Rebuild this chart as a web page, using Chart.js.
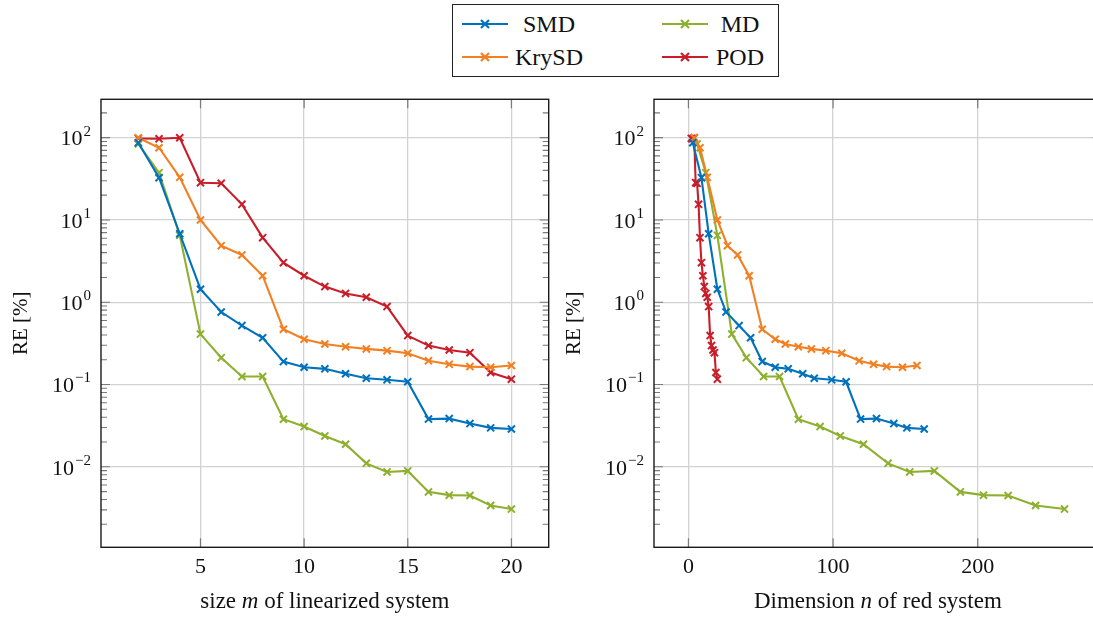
<!DOCTYPE html>
<html>
<head>
<meta charset="utf-8">
<script src="https://cdn.jsdelivr.net/npm/chart.js@4.4.1/dist/chart.umd.min.js"></script>
<style>
  html, body { margin: 0; padding: 0; background: #fff; overflow: hidden; width: 1093px; height: 617px; }
  .panel { position: absolute; top: 80px; }
  #legend { position: absolute; left: 452px; top: 4px; width: 327px; height: 73px; border: 1.3px solid #222;
            font-family: 'Liberation Serif', serif; font-size: 24px; color: #111; box-sizing: border-box; }
  .item { position: absolute; height: 30px; line-height: 30px; }
  .item svg { position: absolute; top: 7px; }
  .item span { position: absolute; width: 90px; text-align: center; }
</style>
</head>
<body>
<div id="legend"></div>
<canvas id="left" class="panel" width="560" height="537" style="left:0px"></canvas>
<canvas id="right" class="panel" width="560" height="537" style="left:553px"></canvas>
<script>
// series names / colours
const seriesNames = ['SMD', 'KrySD', 'MD', 'POD'];
const seriesColors = ['#0072BD', '#F28022', '#8DB02E', '#C81E2A'];

// left plot: size m of linearized system
const mValues = [2, 3, 4, 5, 6, 7, 8, 9, 10, 11, 12, 13, 14, 15, 16, 17, 18, 19, 20];

// relative error in %
const smdRE   = [87, 32.7, 6.8, 1.44, 0.76, 0.52, 0.37, 0.19, 0.162, 0.155, 0.135, 0.119, 0.114, 0.108, 0.038, 0.0385, 0.0335, 0.0297, 0.0288];
const krysdRE = [100, 75.6, 33, 10, 4.87, 3.76, 2.1, 0.47, 0.355, 0.311, 0.288, 0.271, 0.258, 0.24, 0.194, 0.176, 0.165, 0.162, 0.17];
const mdRE    = [84, 37.6, 6.5, 0.41, 0.212, 0.125, 0.125, 0.0378, 0.0308, 0.0237, 0.0188, 0.011, 0.00865, 0.0089, 0.00495, 0.00452, 0.00447, 0.00338, 0.00306];
const podRE   = [98, 97, 100, 28.4, 27.9, 15.5, 6.1, 3.03, 2.1, 1.55, 1.28, 1.15, 0.885, 0.393, 0.297, 0.263, 0.244, 0.14, 0.116];

// right plot: dimension n of reduced system
const smdDim   = [3, 9, 14, 20, 26, 35, 43, 51, 60, 69, 79, 87, 99, 109, 119, 130, 142, 151, 163];
const krysdDim = [4, 8, 13, 20, 27, 34, 42, 51, 60, 67, 76, 85, 95, 106, 118, 128, 137, 148, 158];
const mdDim    = [6, 12, 20, 30, 40, 52, 63, 76, 91, 105, 121, 138, 153, 170, 188, 204, 221, 240, 260];
const podDim   = [2, 3, 4, 5, 6, 7, 8, 9, 10, 11, 12, 13, 14, 15, 16, 17, 18, 19, 20];

// ticks
const leftXTicks  = [5, 10, 15, 20];
const rightXTicks = [0, 100, 200];
const yTicks      = [0.01, 0.1, 1, 10, 100];
const yTickExps   = ['\u22122', '\u22121', '0', '1', '2'];

const serif = "'Liberation Serif', serif";
const allRE = [smdRE, krysdRE, mdRE, podRE];

// legend
const legend = document.getElementById('legend');
const slots = [[8, 4, 43], [8, 37, 43], [208, 4, 34], [208, 37, 34]]; // SMD, KrySD, MD, POD
seriesNames.forEach((name, i) => {
  const d = document.createElement('div');
  d.className = 'item';
  d.style.left = slots[i][0] + 'px';
  d.style.top = slots[i][1] + 'px';
  const c = seriesColors[i];
  d.innerHTML = '<svg width="48" height="16"><line x1="1" y1="8" x2="47" y2="8" stroke="' + c + '" stroke-width="2"/>' +
    '<path d="M20 4 L28 12 M28 4 L20 12" stroke="' + c + '" stroke-width="2.2"/></svg>' +
    '<span style="left:' + slots[i][2] + 'px">' + name + '</span>';
  legend.appendChild(d);
});

const frameAndTicks = {
  id: 'frameAndTicks',
  beforeDatasetsDraw(chart) {
    const { ctx, chartArea: a, scales: { x, y } } = chart;
    ctx.save();
    ctx.strokeStyle = '#7a7a7a';
    ctx.lineWidth = 1.2;
    ctx.beginPath();
    x.ticks.forEach(t => {
      const px = x.getPixelForValue(t.value);
      ctx.moveTo(px, a.bottom); ctx.lineTo(px, a.bottom - 9);
      ctx.moveTo(px, a.top); ctx.lineTo(px, a.top + 9);
    });
    for (let k = -3; k <= 2; k++) {
      for (let m = 1; m <= 9; m++) {
        const v = m * Math.pow(10, k);
        if (v < y.min || v > y.max) continue;
        const py = y.getPixelForValue(v);
        const len = m === 1 ? 9 : 6;
        ctx.moveTo(a.left, py); ctx.lineTo(a.left + len, py);
        ctx.moveTo(a.right, py); ctx.lineTo(a.right - len, py);
      }
    }
    ctx.stroke();
    ctx.restore();
  },
  afterDatasetsDraw(chart) {
    const { ctx, chartArea: a } = chart;
    ctx.save();
    ctx.strokeStyle = '#1a1a1a';
    ctx.lineWidth = 1.4;
    ctx.strokeRect(a.left, a.top, a.right - a.left, a.bottom - a.top);
    ctx.restore();
  },
  afterDraw(chart, args, opts) {
    const { ctx, chartArea: a, scales: { y } } = chart;
    ctx.save();
    ctx.fillStyle = '#111';
    ctx.textBaseline = 'middle';
    // y tick labels 10^k
    yTicks.forEach((v, i) => {
      const py = y.getPixelForValue(v);
      ctx.font = '15px ' + serif;
      const ew = ctx.measureText(yTickExps[i]).width;
      ctx.textAlign = 'right';
      ctx.fillText(yTickExps[i], a.left - 10, py - 6);
      ctx.font = '22px ' + serif;
      ctx.fillText('10', a.left - 11 - ew, py + 2);
    });
    // x axis title with italic variable
    const parts = opts.title;
    let total = 0;
    const widths = parts.map(p => {
      ctx.font = (p[1] ? 'italic ' : '') + '23px ' + serif;
      const w = ctx.measureText(p[0]).width;
      total += w;
      return w;
    });
    let xPos = (a.left + a.right) / 2 - total / 2;
    ctx.textAlign = 'left';
    ctx.textBaseline = 'alphabetic';
    parts.forEach((p, i) => {
      ctx.font = (p[1] ? 'italic ' : '') + '23px ' + serif;
      ctx.fillText(p[0], xPos, 528);
      xPos += widths[i];
    });
    ctx.restore();
  }
};

function makeChart(id, xs, xMin, xMax, xTicks, titleParts) {
  const datasets = seriesNames.map((name, i) => ({
    label: name,
    data: xs[i].map((v, j) => ({ x: v, y: allRE[i][j] })),
    borderColor: seriesColors[i],
    backgroundColor: seriesColors[i],
    borderWidth: 2.1,
    pointStyle: 'crossRot',
    pointRadius: 5,
    pointBorderWidth: 2,
    tension: 0
  }));
  return new Chart(document.getElementById(id), {
    type: 'line',
    data: { datasets: datasets },
    options: {
      responsive: false,
      animation: false,
      devicePixelRatio: 1,
      layout: { padding: { top: 19.3, right: 11.3, left: 0, bottom: 0 } },
      plugins: { legend: { display: false }, tooltip: { enabled: false }, frameAndTicks: { title: titleParts } },
      scales: {
        x: {
          type: 'linear',
          min: xMin,
          max: xMax,
          afterBuildTicks: s => { s.ticks = xTicks.map(v => ({ value: v })); },
          afterFit: s => { s.height = 69.7; s.paddingLeft = 0; s.paddingRight = 0; },
          grid: { color: '#d2d2d2', lineWidth: 1.3, drawTicks: false },
          border: { display: false },
          ticks: { font: { family: serif, size: 22 }, color: '#111', padding: 7, maxRotation: 0 }
        },
        y: {
          type: 'logarithmic',
          min: Math.pow(10, -2.979),
          max: Math.pow(10, 2.467),
          afterBuildTicks: s => { s.ticks = yTicks.map(v => ({ value: v })); },
          afterFit: s => { s.width = 101; s.paddingTop = 0; s.paddingBottom = 0; },
          grid: { color: '#d2d2d2', lineWidth: 1.3, drawTicks: false },
          border: { display: false },
          ticks: { display: false },
          title: { display: true, text: 'RE [%]', font: { family: serif, size: 21 }, color: '#111', padding: { top: 9, bottom: 0 } }
        }
      }
    },
    plugins: [frameAndTicks]
  });
}

makeChart('left', [mValues, mValues, mValues, mValues], 0.2, 21.8, leftXTicks,
  [['size ', false], ['m', true], [' of linearized system', false]]);
makeChart('right', [smdDim, krysdDim, mdDim, podDim], -23.8, 285.7, rightXTicks,
  [['Dimension ', false], ['n', true], [' of red system', false]]);
</script>
</body>
</html>
